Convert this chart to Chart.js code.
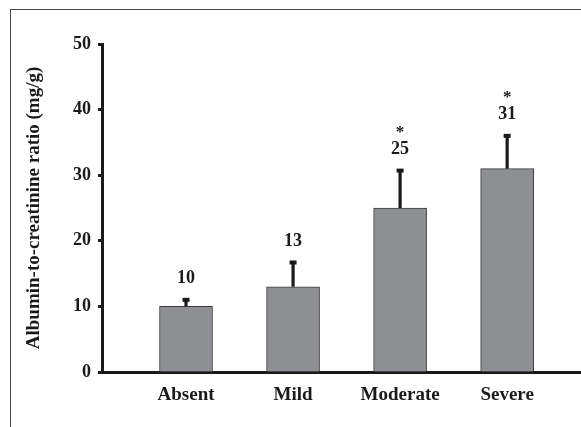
<!DOCTYPE html>
<html>
<head>
<meta charset="utf-8">
<script src="https://cdn.jsdelivr.net/npm/chart.js@4"></script>
<style>
  html, body { margin: 0; padding: 0; background: #fff; overflow: hidden; }
  #wrap { position: relative; width: 581px; height: 427px; overflow: hidden; }
  #frame { position: absolute; left: 10px; top: 9px; width: 700px; height: 600px; border: 1px solid #4a4a4a; box-sizing: border-box; }
  canvas { position: absolute; left: 0; top: 0; }
</style>
</head>
<body>
<div id="wrap">
  <div id="frame"></div>
  <canvas id="c" width="581" height="427"></canvas>
</div>
<script>
// Albuminuria by severity group
const categories = ['Absent', 'Mild', 'Moderate', 'Severe'];
const means = [10, 13, 25, 31];
const upperErrors = [1, 3.7, 5.7, 5];
const significance = ['', '', '*', '*'];
const yTicks = [0, 10, 20, 30, 40, 50];

const serif = '"Liberation Serif", "Times New Roman", serif';
const ink = '#1a1a1a';

// Upper error whiskers with value labels and significance marks above them
const errorBars = {
  id: 'errorBars',
  afterDatasetsDraw(chart) {
    const ctx = chart.ctx;
    const y = chart.scales.y;
    const meta = chart.getDatasetMeta(0);
    ctx.save();
    meta.data.forEach((bar, i) => {
      const top = y.getPixelForValue(means[i]);
      const cap = y.getPixelForValue(means[i] + upperErrors[i]);
      ctx.strokeStyle = ink;
      ctx.lineWidth = 3.2;
      ctx.beginPath();
      ctx.moveTo(bar.x, top);
      ctx.lineTo(bar.x, cap);
      ctx.stroke();
      ctx.fillStyle = ink;
      ctx.fillRect(bar.x - 3.5, cap - 2, 7, 4);

      ctx.textAlign = 'center';
      ctx.textBaseline = 'middle';
      ctx.font = 'bold 18px ' + serif;
      const labelY = cap - 21;
      ctx.fillText(String(means[i]), bar.x, labelY);
      if (significance[i]) {
        ctx.font = 'bold 17px ' + serif;
        ctx.fillText(significance[i], bar.x, labelY - 17);
      }
    });
    ctx.restore();
  }
};

new Chart(document.getElementById('c'), {
  type: 'bar',
  data: {
    datasets: [{
      data: means.map((v, i) => ({ x: i + 1, y: v })),
      backgroundColor: '#8e8f93',
      borderColor: '#3c3c3c',
      borderWidth: 1,
      borderSkipped: 'bottom',
      barThickness: 53
    }]
  },
  options: {
    responsive: false,
    devicePixelRatio: 1,
    animation: false,
    layout: { padding: { top: 44, right: 0, bottom: 0, left: 0 } },
    plugins: { legend: { display: false }, tooltip: { enabled: false } },
    scales: {
      x: {
        type: 'linear',
        offset: false,
        min: 0.215,
        max: 4.69,
        afterBuildTicks: s => { s.ticks = categories.map((c, i) => ({ value: i + 1 })); },
        afterFit: s => { s.height = 55; },
        grid: { display: false, drawTicks: false, offset: false },
        border: { display: true, color: ink, width: 3 },
        ticks: {
          padding: 12,
          color: ink,
          font: { family: serif, size: 19, weight: 'bold' },
          callback: v => categories[Math.round(v) - 1] || ''
        }
      },
      y: {
        min: 0,
        max: 50,
        afterBuildTicks: s => { s.ticks = yTicks.map(v => ({ value: v })); },
        afterFit: s => { s.width = 102; },
        grid: { drawOnChartArea: false, drawTicks: true, tickLength: 4, tickWidth: 3, color: ink },
        border: { display: true, color: ink, width: 3 },
        ticks: {
          padding: 7,
          color: ink,
          font: { family: serif, size: 18, weight: 'bold' }
        },
        title: {
          display: true,
          text: 'Albumin-to-creatinine ratio (mg/g)',
          color: ink,
          font: { family: serif, size: 19, weight: 'bold' },
          padding: { top: 23, bottom: 0 }
        }
      }
    }
  },
  plugins: [errorBars]
});
</script>
</body>
</html>
